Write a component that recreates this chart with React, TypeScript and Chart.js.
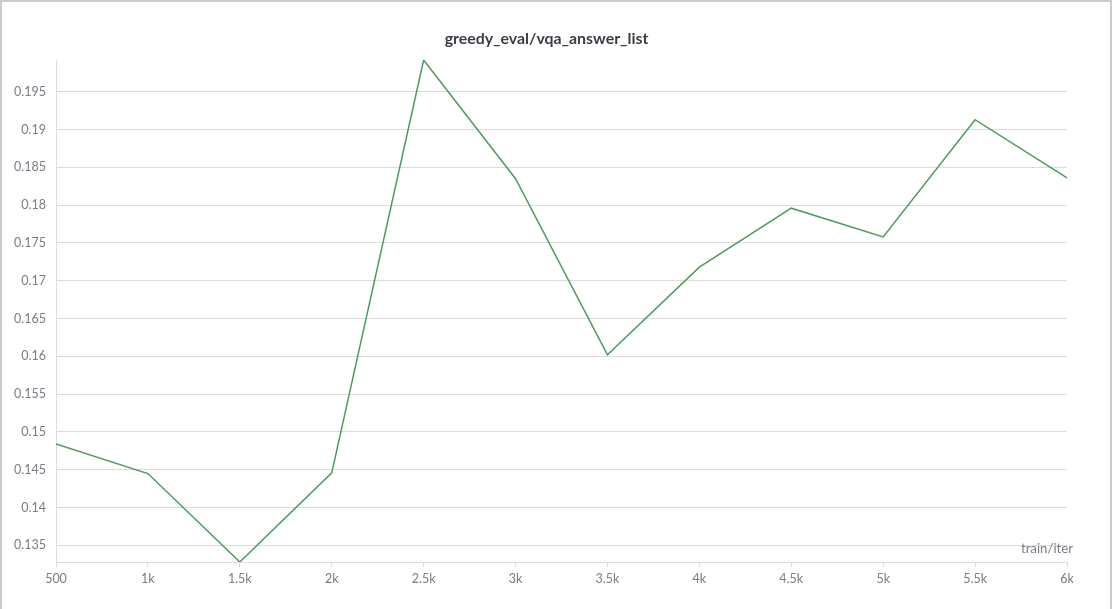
import React, { useEffect, useRef } from "react";
import { Chart, registerables } from "chart.js";

Chart.register(...registerables);

const chartTitle = "greedy_eval/vqa_answer_list";
const xAxisLabel = "train/iter";
const iters = [500, 1000, 1500, 2000, 2500, 3000, 3500, 4000, 4500, 5000, 5500, 6000];
const values = [0.1484, 0.1445, 0.1328, 0.1446, 0.1992, 0.1835, 0.1602, 0.1718, 0.1796, 0.1758, 0.1913, 0.1836];
const xTicks = [500, 1000, 1500, 2000, 2500, 3000, 3500, 4000, 4500, 5000, 5500, 6000];
const xTickLabels = ["500", "1k", "1.5k", "2k", "2.5k", "3k", "3.5k", "4k", "4.5k", "5k", "5.5k", "6k"];
const yTicks = [0.135, 0.14, 0.145, 0.15, 0.155, 0.16, 0.165, 0.17, 0.175, 0.18, 0.185, 0.19, 0.195];
const yTickLabels = ["0.135", "0.14", "0.145", "0.15", "0.155", "0.16", "0.165", "0.17", "0.175", "0.18", "0.185", "0.19", "0.195"];

const FONT = "Lato, 'Noto Sans', sans-serif";
const TICK_COLOR = "#7b7b86";
const GRID_COLOR = "#dcdcdc";

const textPlugin = {
  id: "textPlugin",
  afterDraw(chart: any) {
    const { ctx, chartArea } = chart;
    ctx.save();
    // chart title
    ctx.font = `bold 15.9px ${FONT}`;
    ctx.fillStyle = "#3c3c46";
    ctx.textAlign = "center";
    ctx.textBaseline = "alphabetic";
    ctx.fillText(chartTitle, 544.5, 41.5);
    // x axis name
    ctx.font = `13.2px ${FONT}`;
    ctx.fillStyle = TICK_COLOR;
    ctx.textAlign = "right";
    ctx.textBaseline = "middle";
    ctx.fillText(xAxisLabel, chartArea.right + 6, chartArea.bottom - 13);
    ctx.restore();
  },
};

export default function App() {
  const canvasRef = useRef<HTMLCanvasElement | null>(null);

  useEffect(() => {
    if (!canvasRef.current) return;
    const chart = new Chart(canvasRef.current, {
      type: "line",
      data: {
        datasets: [
          {
            label: chartTitle,
            data: iters.map((x, i) => ({ x, y: values[i] })),
            borderColor: "#4e9a5e",
            borderWidth: 1.5,
            pointRadius: 0,
            tension: 0,
            fill: false,
          },
        ],
      },
      options: {
        animation: false,
        responsive: true,
        maintainAspectRatio: false,
        layout: { padding: { top: 58, right: 43, bottom: 0, left: 0 } },
        plugins: {
          legend: { display: false },
          tooltip: { enabled: false },
          title: { display: false },
        },
        scales: {
          x: {
            type: "linear",
            min: Math.min(...iters),
            max: Math.max(...iters),
            afterBuildTicks(scale: any) {
              scale.ticks = xTicks.map((v) => ({ value: v }));
            },
            afterFit(scale: any) {
              scale.height = 47;
            },
            ticks: {
              color: TICK_COLOR,
              font: { family: FONT, size: 12.5 },
              padding: 4,
              maxRotation: 0,
              autoSkip: false,
              callback(value: any) {
                const i = xTicks.indexOf(Number(value));
                return i >= 0 ? xTickLabels[i] : "";
              },
            },
            grid: {
              drawOnChartArea: false,
              drawTicks: true,
              tickLength: 5,
              color: GRID_COLOR,
            },
            border: { color: GRID_COLOR },
          },
          y: {
            type: "linear",
            min: Math.min(...values),
            max: Math.max(...values),
            afterBuildTicks(scale: any) {
              scale.ticks = yTicks.map((v) => ({ value: v }));
            },
            afterFit(scale: any) {
              scale.width = 54;
            },
            ticks: {
              color: TICK_COLOR,
              font: { family: FONT, size: 12.5 },
              padding: 10,
              autoSkip: false,
              callback(value: any) {
                const i = yTicks.findIndex((t) => Math.abs(t - Number(value)) < 1e-9);
                return i >= 0 ? yTickLabels[i] : "";
              },
            },
            grid: {
              drawTicks: false,
              color: GRID_COLOR,
            },
            border: { color: GRID_COLOR },
          },
        },
      },
      plugins: [textPlugin],
    });
    return () => chart.destroy();
  }, []);

  return (
    <div style={{ position: "fixed", inset: 0, background: "#c9cbcc" }}>
      <div
        style={{
          position: "absolute",
          left: 2,
          top: 2,
          width: 1108,
          height: 607,
          background: "#ffffff",
        }}
      >
        <canvas ref={canvasRef} />
      </div>
    </div>
  );
}
